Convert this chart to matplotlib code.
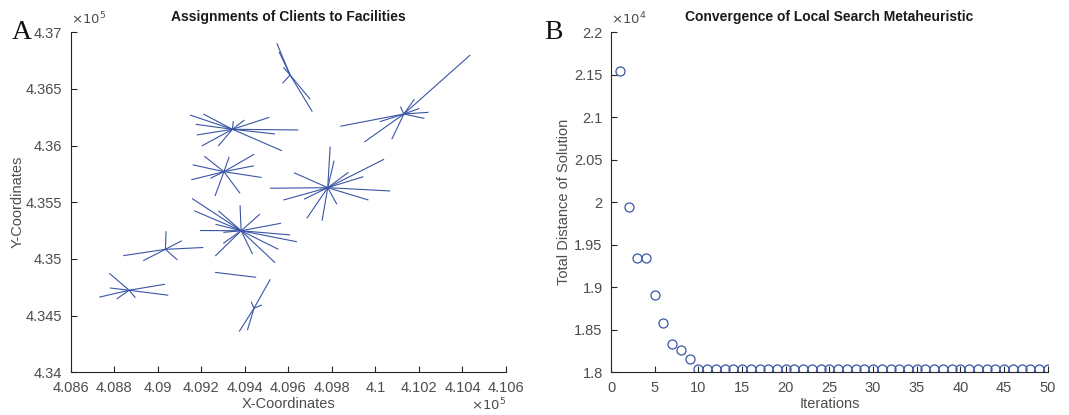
import matplotlib
matplotlib.use("Agg")
import matplotlib.pyplot as plt
from matplotlib.ticker import FuncFormatter
import numpy as np

plt.rcParams['font.family'] = ['Liberation Sans', 'DejaVu Sans']

# ---------------- Data: panel A ----------------
facility_x = [409608, 409343, 409304, 409383, 409781, 410131, 409035, 408868, 409442, 409263]
facility_y = [436623, 436144, 435770, 435249, 435629, 436279, 435085, 434724, 434565, 434882]

client_x = [
    409547, 409557, 409577, 409573, 409700, 409710,
    409148, 409209, 409174, 409179, 409202, 409278, 409347, 409398, 409513, 409646, 409539, 409570,
    409214, 409328, 409443, 409441, 409160, 409154, 409242, 409263, 409378, 409477,
    409157, 409168, 409278, 409265, 409194, 409301, 409301, 409264, 409378, 409469, 409566, 409608,
    409639, 409554, 409539, 409435,
    409792, 409810, 409626, 409516, 409577, 409672, 409685, 409755, 409823, 409968, 410068, 409945,
    409876, 410040,
    410436, 409839, 410020, 409949, 410075, 410225, 410244, 410202, 410179, 410115,
    409038, 409110, 409209, 409090, 408933, 408841,
    408777, 409033, 409048, 408897, 408811, 408731, 408780,
    409517, 409478, 409429, 409374, 409412,
    409452,
]
client_y = [
    436903, 436829, 436691, 436550, 436409, 436300,
    436270, 436279, 436188, 436094, 435997, 435997, 436217, 436226, 436250, 436138, 436103, 435955,
    435906, 435902, 435924, 435822, 435831, 435699, 435712, 435556, 435579, 435719,
    435534, 435425, 435425, 435306, 435251, 435235, 435138, 435026, 435474, 435395, 435315, 435212,
    435152, 435085, 434967, 435044,
    435991, 435867, 435761, 435624, 435520, 435527, 435359, 435338, 435482, 435520, 435600, 435726,
    435765, 435880,
    436800, 436171, 436211, 436032, 436056, 436240, 436294, 436328, 436409, 436344,
    435244, 435161, 435101, 434991, 434985, 435029,
    434874, 434777, 434680, 434658, 434647, 434663, 434744,
    434821, 434594, 434623, 434360, 434373,
    434838,
]
client_facility = (
    [0] * 6 + [1] * 12 + [2] * 10 + [3] * 16 + [4] * 14 + [5] * 10 + [6] * 6 + [7] * 7 + [8] * 5 + [9] * 1
)

# ---------------- Data: panel B ----------------
iterations = list(range(1, 51))
total_distance = [21540, 19940, 19340, 19340, 18910, 18582, 18329, 18259, 18153] + [18042] * 41

blue = '#3a55a6'
axcol = '#262626'
tickcol = '#4d4d4d'

fig = plt.figure(figsize=(10.69, 4.15), dpi=100)
axA = fig.add_axes([0.0662, 0.1029, 0.4071, 0.8193])
axB = fig.add_axes([0.5716, 0.1029, 0.4085, 0.8193])

for fi, ci in zip(client_facility, range(len(client_x))):
    axA.plot([facility_x[fi], client_x[ci]], [facility_y[fi], client_y[ci]],
             color=blue, lw=0.8, solid_capstyle='butt')

axA.set_xlim(408600, 410600)
axA.set_ylim(434000, 437000)
axA.set_xticks(np.arange(408600, 410601, 200))
axA.set_yticks(np.arange(434000, 437001, 500))
axA.xaxis.set_major_formatter(FuncFormatter(lambda v, p: ('%.3f' % (v / 1e5)).rstrip('0').rstrip('.')))
axA.yaxis.set_major_formatter(FuncFormatter(lambda v, p: ('%.3f' % (v / 1e5)).rstrip('0').rstrip('.')))
axA.set_title('Assignments of Clients to Facilities', fontsize=10, fontweight='bold', color='#1a1a1a', pad=8)
axA.set_xlabel('X-Coordinates', fontsize=10.5, color=tickcol, labelpad=2)
axA.set_ylabel('Y-Coordinates', fontsize=10.5, color=tickcol, labelpad=1)
axA.text(0.0, 1.015, r'$\times10^5$', transform=axA.transAxes, fontsize=9.5, color=tickcol, ha='left', va='bottom')
axA.text(1.0, -0.072, r'$\times10^5$', transform=axA.transAxes, fontsize=9.5, color=tickcol, ha='right', va='top')

axB.plot(iterations, total_distance, 'o', mfc='none', mec=blue, ms=6.5, mew=0.9)
axB.set_xlim(0, 50)
axB.set_ylim(18000, 22000)
axB.set_xticks(np.arange(0, 51, 5))
axB.set_yticks(np.arange(18000, 22001, 500))
axB.yaxis.set_major_formatter(FuncFormatter(lambda v, p: ('%.2f' % (v / 1e4)).rstrip('0').rstrip('.')))
axB.set_title('Convergence of Local Search Metaheuristic', fontsize=10, fontweight='bold', color='#1a1a1a', pad=8)
axB.set_xlabel('Iterations', fontsize=10.5, color=tickcol, labelpad=2)
axB.set_ylabel('Total Distance of Solution', fontsize=10.5, color=tickcol, labelpad=2)
axB.text(0.0, 1.015, r'$\times10^4$', transform=axB.transAxes, fontsize=9.5, color=tickcol, ha='left', va='bottom')

for ax in (axA, axB):
    ax.spines['top'].set_visible(False)
    ax.spines['right'].set_visible(False)
    for s in ('left', 'bottom'):
        ax.spines[s].set_color(axcol)
        ax.spines[s].set_linewidth(0.8)
    ax.tick_params(direction='in', length=4, width=0.8, colors=axcol, labelcolor=tickcol, labelsize=10.5)
    ax.tick_params(axis='x', pad=6)
    ax.tick_params(axis='y', pad=6)

fig.text(0.011, 0.905, 'A', family=['Liberation Serif'], fontsize=20, color='#111111')
fig.text(0.509, 0.905, 'B', family=['Liberation Serif'], fontsize=20, color='#111111')

fig.savefig('out.png', dpi=100)
